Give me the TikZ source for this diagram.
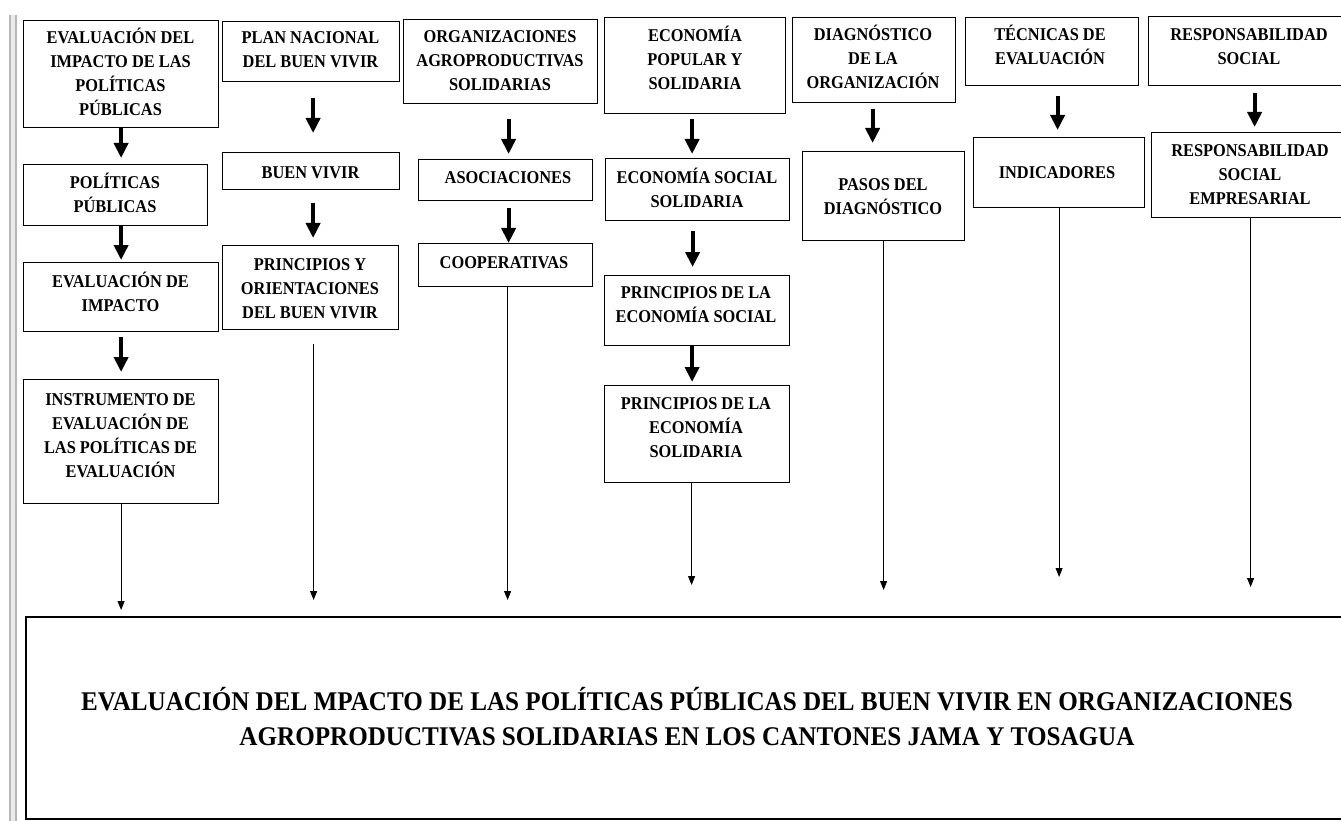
\documentclass[tikz,border=0pt]{standalone}
\usepackage{fontspec}
\usetikzlibrary{arrows.meta,calc}
\newfontfamily\tnr[FakeStretch=0.91]{Liberation Serif}
\newfontfamily\tnrbig[FakeStretch=0.93]{Liberation Serif}
\newcommand\boxfont{\tnr\bfseries\fontsize{18}{24}\selectfont}
\newcommand\bigfont{\tnrbig\bfseries\fontsize{27}{35}\selectfont}
\newcommand\fstrut{\rule{0pt}{18pt}}
\newcommand\bstrut{\rule{0pt}{26pt}}
\tikzset{
  box/.style={draw=black, line width=1.2pt, inner sep=0pt, anchor=north west},
  txt/.style={anchor=north, align=center, inner sep=0pt, font=\boxfont},
  big/.style={line width=4pt, -{Triangle[width=14pt,length=15pt]}},
  thinarrow/.style={line width=0.9pt, -{Triangle[width=7pt,length=9pt]}},
  margin/.style={draw=black!28, line width=1.4pt},
}
\begin{document}
\begin{tikzpicture}[x=1pt,y=-1pt]
\useasboundingbox (0,0) rectangle (1341,821);
\clip (0,0) rectangle (1341,821);
\fill[white] (0,0) rectangle (1341,821);
% page margin artefact
\fill[black!8] (10,15) rectangle (16,821);
\draw[margin] (10,15) -- (10,821);
\draw[margin] (16,15) -- (16,821);

% column A
\node[box, minimum width=195, minimum height=107] (a1) at (23,20) {};
\node[txt] (ta1) at (120.5,25) {\fstrut EVALUACIÓN DEL\\IMPACTO DE LAS\\POLÍTICAS\\PÚBLICAS};
\node[box, minimum width=184, minimum height=61] (a2) at (23,164) {};
\node[txt] (ta2) at (115,170) {\fstrut POLÍTICAS\\PÚBLICAS};
\node[box, minimum width=195, minimum height=69] (a3) at (23,262) {};
\node[txt] (ta3) at (120.5,269) {\fstrut EVALUACIÓN DE\\IMPACTO};
\node[box, minimum width=195, minimum height=124] (a4) at (23,379) {};
\node[txt] (ta4) at (120.5,387) {\fstrut INSTRUMENTO DE\\EVALUACIÓN DE\\LAS POLÍTICAS DE\\EVALUACIÓN};

% column B
\node[box, minimum width=177, minimum height=60] (b1) at (222,21) {};
\node[txt] (tb1) at (310.5,25) {\fstrut PLAN NACIONAL\\DEL BUEN VIVIR};
\node[box, minimum width=177, minimum height=37] (b2) at (222,152) {};
\node[txt] (tb2) at (310.5,160) {\fstrut BUEN VIVIR};
\node[box, minimum width=176, minimum height=84] (b3) at (222,245) {};
\node[txt] (tb3) at (310,252) {\fstrut PRINCIPIOS Y\\ORIENTACIONES\\DEL BUEN VIVIR};

% column C
\node[box, minimum width=194, minimum height=84] (c1) at (403,19) {};
\node[txt] (tc1) at (500,24) {\fstrut ORGANIZACIONES\\AGROPRODUCTIVAS\\SOLIDARIAS};
\node[box, minimum width=174, minimum height=41] (c2) at (418,159) {};
\node[txt] (tc2) at (508,165) {\fstrut ASOCIACIONES};
\node[box, minimum width=174, minimum height=43] (c3) at (418,243) {};
\node[txt] (tc3) at (504,250) {\fstrut COOPERATIVAS};

% column D
\node[box, minimum width=181, minimum height=96] (d1) at (604,17) {};
\node[txt] (td1) at (695,23) {\fstrut ECONOMÍA\\POPULAR Y\\SOLIDARIA};
\node[box, minimum width=184, minimum height=62] (d2) at (605,158) {};
\node[txt] (td2) at (697,165) {\fstrut ECONOMÍA SOCIAL\\SOLIDARIA};
\node[box, minimum width=185, minimum height=70] (d3) at (604,275) {};
\node[txt] (td3) at (696,280) {\fstrut PRINCIPIOS DE LA\\ECONOMÍA SOCIAL};
\node[box, minimum width=185, minimum height=97] (d4) at (604,385) {};
\node[txt] (td4) at (696,391) {\fstrut PRINCIPIOS DE LA\\ECONOMÍA\\SOLIDARIA};

% column E
\node[box, minimum width=163, minimum height=85] (e1) at (792,17) {};
\node[txt] (te1) at (873,22) {\fstrut DIAGNÓSTICO\\DE LA\\ORGANIZACIÓN};
\node[box, minimum width=162, minimum height=89] (e2) at (802,151) {};
\node[txt] (te2) at (883,172) {\fstrut PASOS DEL\\DIAGNÓSTICO};

% column F
\node[box, minimum width=173, minimum height=68] (f1) at (965,17) {};
\node[txt] (tf1) at (1050,22) {\fstrut TÉCNICAS DE\\EVALUACIÓN};
\node[box, minimum width=171, minimum height=70] (f2) at (973,137) {};
\node[txt] (tf2) at (1057,160) {\fstrut INDICADORES};

% column G
\node[box, minimum width=212, minimum height=69] (g1) at (1148,16) {};
\node[txt] (tg1) at (1249,22) {\fstrut RESPONSABILIDAD\\SOCIAL};
\node[box, minimum width=209, minimum height=85] (g2) at (1151,132) {};
\node[txt] (tg2) at (1250,138) {\fstrut RESPONSABILIDAD\\SOCIAL\\EMPRESARIAL};

% bottom box
\node[box, line width=1.5pt, minimum width=1340, minimum height=202] (bot) at (25,616) {};
\node[txt, font=\bigfont] (tbot) at (687,684) {\bstrut EVALUACIÓN DEL MPACTO DE LAS POLÍTICAS PÚBLICAS DEL BUEN VIVIR EN ORGANIZACIONES\\AGROPRODUCTIVAS SOLIDARIAS EN LOS CANTONES JAMA Y TOSAGUA};

% thick arrows
\draw[big] (a1.south) -- ($(a1.south |- a2.north)+(0,-6)$);
\draw[big] (a2.south -| a1.south) -- ($(a3.north)+(0,-2)$);
\draw[big] ($(a3.south)+(0,5)$) -- ($(a4.north)+(0,-7)$);
\draw[big] ($(b1.south)+(2,16)$) -- ($(b2.north)+(2,-19)$);
\draw[big] ($(b2.south)+(2,13)$) -- ($(b2.south |- b3.north)+(2,-7)$);
\draw[big] ($(c1.south -| c2.north)+(3,15)$) -- ($(c2.north)+(3,-5)$);
\draw[big] ($(c2.south)+(3,7)$) -- ($(c3.north)+(3,0)$);
\draw[big] ($(d1.south)+(-3,5)$) -- ($(d1.south |- d2.north)+(-3,-4)$);
\draw[big] ($(d2.south)+(-5,10)$) -- ($(d2.south |- d3.north)+(-5,-8)$);
\draw[big] ($(d3.south)+(-5,0)$) -- ($(d4.north)+(-5,-3)$);
\draw[big] ($(e1.south)+(-1.5,6)$) -- ($(e1.south |- e2.north)+(-1.5,-8)$);
\draw[big] ($(f1.south)+(5.5,10)$) -- ($(f1.south |- f2.north)+(5.5,-7)$);
\draw[big] ($(g1.south)+(0,7)$) -- ($(g1.south |- g2.north)+(0,-5)$);

% thin arrows to the bottom box
\draw[thinarrow] (a4.south) -- ($(a4.south |- bot.north)+(0,-6)$);
\draw[thinarrow] ($(b3.south)+(3,14)$) -- ($(b3.south |- bot.north)+(3,-16)$);
\draw[thinarrow] ($(c3.south)+(2,0)$) -- ($(c3.south |- bot.north)+(2,-16)$);
\draw[thinarrow] ($(d4.south)+(-5.5,0)$) -- ($(d4.south |- bot.north)+(-5.5,-31)$);
\draw[thinarrow] (e2.south) -- ($(e2.south |- bot.north)+(0,-26)$);
\draw[thinarrow] (f2.south) -- ($(f2.south |- bot.north)+(0,-39)$);
\draw[thinarrow] ($(g2.south)+(-5.5,0)$) -- ($(g2.south |- bot.north)+(-5.5,-29)$);
\end{tikzpicture}
\end{document}
